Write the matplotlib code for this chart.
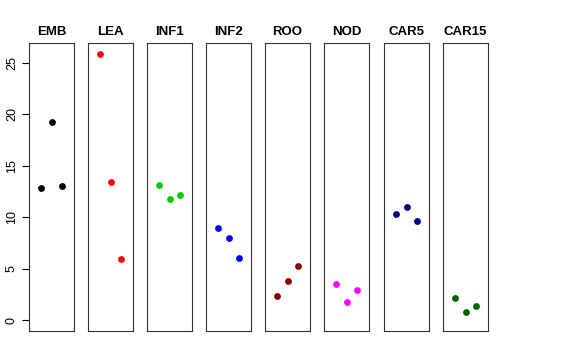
import matplotlib
matplotlib.use("Agg")
import matplotlib.pyplot as plt

plt.rcParams['font.family'] = ['Liberation Sans', 'DejaVu Sans']

tissues = ["EMB", "LEA", "INF1", "INF2", "ROO", "NOD", "CAR5", "CAR15"]
colors = ["black", "red", "#00CD00", "blue", "#8B0000", "magenta", "#000080", "#006400"]
reps = [1, 2, 3]
emb = [12.9, 19.26, 13.03]
lea = [25.9, 13.45, 5.99]
inf1 = [13.16, 11.77, 12.16]
inf2 = [8.98, 8.04, 6.06]
roo = [2.39, 3.79, 5.25]
nod = [3.50, 1.81, 2.95]
car5 = [10.37, 11.05, 9.66]
car15 = [2.14, 0.81, 1.39]
values = [emb, lea, inf1, inf2, roo, nod, car5, car15]

fig = plt.figure(figsize=(5.76, 3.6), dpi=100)
W, H = 576.0, 360.0
lefts = [29, 88, 147, 206, 265, 324, 384, 443]
top, bottom, width = 43, 331, 45

ymax = max(max(v) for v in values)
yr = ymax - 0
ylim = (0 - 0.04 * yr, ymax + 0.04 * yr)

for i in range(len(tissues)):
    ax = fig.add_axes([lefts[i] / W, 1 - bottom / H, width / W, (bottom - top) / H])
    ax.scatter(reps, values[i], s=24, color=colors[i], zorder=3, linewidths=0)
    ax.set_xlim(-0.16, 4.16)
    ax.set_ylim(*ylim)
    ax.set_xticks([])
    ax.set_title(tissues[i], fontsize=9.5, fontweight='bold', pad=6)
    for s in ax.spines.values():
        s.set_linewidth(0.8)
        s.set_color('#333333')
    if i == 0:
        ax.set_yticks([0, 5, 10, 15, 20, 25])
        ax.tick_params(axis='y', labelsize=9, length=5, width=0.8, labelrotation=90, pad=3)
        for lab in ax.get_yticklabels():
            lab.set_va('center')
    else:
        ax.set_yticks([])

fig.savefig("out.png", dpi=100)
